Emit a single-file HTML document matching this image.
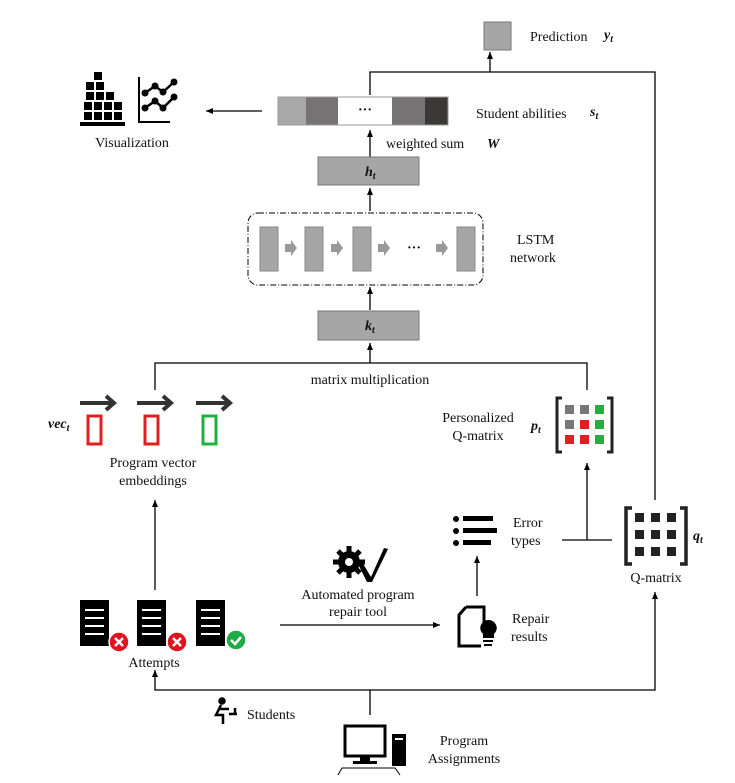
<!DOCTYPE html><html><head><meta charset="utf-8"><style>body{margin:0;background:#fff}svg{display:block}text{font-family:"Liberation Serif",serif;font-size:14px;fill:#111}.b{font-weight:bold;font-style:italic}</style></head><body>
<svg width="735" height="783" viewBox="0 0 735 783">
<defs><marker id="a" markerWidth="8" markerHeight="8" refX="7" refY="4" orient="auto" markerUnits="userSpaceOnUse"><path d="M0,1 L7,4 L0,7z" fill="#000"/></marker></defs>
<g stroke="#000" stroke-width="1.3" fill="none">
<!-- prediction line -->
<path d="M370,95 V72 H655 V500"/>
<path d="M490,72 V52" marker-end="url(#a)"/>
<path d="M262,111 H206" marker-end="url(#a)"/>
<path d="M370,157 V130" marker-end="url(#a)"/>
<path d="M370,211 V188" marker-end="url(#a)"/>
<path d="M370,310 V287" marker-end="url(#a)"/>
<path d="M370,363 V343" marker-end="url(#a)"/>
<path d="M155,390 V363 H587 V390"/>
<path d="M155,590 V500" marker-end="url(#a)"/>
<path d="M587,540 V463" marker-end="url(#a)"/>
<path d="M562,540 H612"/>
<path d="M477,596 V556" marker-end="url(#a)"/>
<path d="M280,625 H440" marker-end="url(#a)"/>
<path d="M370,715 V690 H655 V592" marker-end="url(#a)"/>
<path d="M370,690 H155 V670" marker-end="url(#a)"/>
</g>
<!-- prediction -->
<rect x="484" y="22" width="27" height="28" fill="#a6a6a6" stroke="#777"/>
<text x="530" y="41">Prediction</text><text x="604" y="39" class="b">y<tspan font-size="10" dy="3">t</tspan></text>
<!-- s_t bar -->
<rect x="278" y="97" width="28" height="28" fill="#a8a8a8"/><rect x="306" y="97" width="32" height="28" fill="#757373"/><rect x="338" y="97" width="54" height="28" fill="#fff"/><rect x="392" y="97" width="33" height="28" fill="#757373"/><rect x="425" y="97" width="23" height="28" fill="#3a3938"/>
<rect x="278" y="97" width="170" height="28" fill="none" stroke="#999"/>
<text x="365" y="114" text-anchor="middle" font-weight="bold">···</text>
<text x="476" y="118">Student abilities</text><text x="590" y="116" class="b">s<tspan font-size="10" dy="3">t</tspan></text>
<!-- visualization -->
<g fill="#000"><rect x="94" y="72" width="8" height="8"/><rect x="86" y="82" width="8" height="8"/><rect x="96" y="82" width="8" height="8"/><rect x="86" y="92" width="8" height="8"/><rect x="96" y="92" width="8" height="8"/><rect x="106" y="92" width="8" height="8"/><rect x="84" y="102" width="8" height="8"/><rect x="94" y="102" width="8" height="8"/><rect x="104" y="102" width="8" height="8"/><rect x="114" y="102" width="8" height="8"/><rect x="84" y="112" width="8" height="8"/><rect x="94" y="112" width="8" height="8"/><rect x="104" y="112" width="8" height="8"/><rect x="114" y="112" width="8" height="8"/><rect x="80" y="122" width="45" height="4"/>
<path d="M139,77 V122 H170" stroke="#000" stroke-width="2" fill="none"/>
<polyline points="145,93 155,86 163,92 174,82" stroke="#000" stroke-width="2.5" fill="none"/><polyline points="145,108 155,101 163,108 174,97" stroke="#000" stroke-width="2.5" fill="none"/>
<circle cx="145" cy="93" r="3.5"/><circle cx="155" cy="86" r="3.5"/><circle cx="163" cy="92" r="3.5"/><circle cx="174" cy="82" r="3.5"/><circle cx="145" cy="108" r="3.5"/><circle cx="155" cy="101" r="3.5"/><circle cx="163" cy="108" r="3.5"/><circle cx="174" cy="97" r="3.5"/></g>
<text x="132" y="147" text-anchor="middle">Visualization</text>
<text x="386" y="148">weighted sum</text><text x="487" y="148" class="b">W</text>
<!-- h_t -->
<rect x="318" y="157" width="101" height="28" fill="#a6a6a6" stroke="#777"/><text x="365" y="176" class="b">h<tspan font-size="10" dy="3">t</tspan></text>
<!-- LSTM -->
<rect x="248" y="213" width="235" height="72" rx="10" fill="none" stroke="#000" stroke-dasharray="6,2,1,2"/>
<g fill="#a6a6a6" stroke="#888"><rect x="260" y="227" width="18" height="44"/><rect x="305" y="227" width="18" height="44"/><rect x="353" y="227" width="18" height="44"/><rect x="457" y="227" width="18" height="44"/></g>
<g fill="#999"><path d="M285,244h6v-4l6,8l-6,8v-4h-6z"/><path d="M331,244h6v-4l6,8l-6,8v-4h-6z"/><path d="M378,244h6v-4l6,8l-6,8v-4h-6z"/><path d="M436,244h6v-4l6,8l-6,8v-4h-6z"/></g>
<text x="414" y="252" text-anchor="middle" font-weight="bold">···</text>
<text x="517" y="244">LSTM</text><text x="510" y="262">network</text>
<!-- k_t -->
<rect x="318" y="311" width="101" height="29" fill="#a6a6a6" stroke="#777"/><text x="365" y="330" class="b">k<tspan font-size="10" dy="3">t</tspan></text>
<text x="370" y="384" text-anchor="middle">matrix multiplication</text>
<!-- vec -->
<text x="48" y="428" class="b">vec<tspan font-size="10" dy="3">t</tspan></text>
<g stroke="#333" stroke-width="4" fill="none"><path d="M80,403 H113 M106,396 L114,403 L106,410"/><path d="M137,403 H170 M163,396 L171,403 L163,410"/><path d="M196,403 H229 M222,396 L230,403 L222,410"/></g>
<rect x="88" y="416" width="13" height="28" fill="none" stroke="#e02020" stroke-width="3"/><rect x="145" y="416" width="13" height="28" fill="none" stroke="#e02020" stroke-width="3"/><rect x="203" y="416" width="13" height="28" fill="none" stroke="#20b040" stroke-width="3"/>
<text x="153" y="467" text-anchor="middle">Program vector</text><text x="153" y="485" text-anchor="middle">embeddings</text>
<!-- personalized -->
<text x="478" y="422" text-anchor="middle">Personalized</text><text x="478" y="440" text-anchor="middle">Q-matrix</text><text x="531" y="430" class="b">p<tspan font-size="10" dy="3">t</tspan></text>
<path d="M562,398 h-5 v54 h5 M607,398 h5 v54 h-5" stroke="#222" stroke-width="3" fill="none"/>
<g><rect x="565" y="405" width="9" height="9" fill="#777"/><rect x="580" y="405" width="9" height="9" fill="#777"/><rect x="595" y="405" width="9" height="9" fill="#20b040"/><rect x="565" y="420" width="9" height="9" fill="#777"/><rect x="580" y="420" width="9" height="9" fill="#e02020"/><rect x="595" y="420" width="9" height="9" fill="#20b040"/><rect x="565" y="435" width="9" height="9" fill="#e02020"/><rect x="580" y="435" width="9" height="9" fill="#e02020"/><rect x="595" y="435" width="9" height="9" fill="#20b040"/></g>
<!-- error types -->
<g fill="#000"><circle cx="456" cy="519" r="3"/><circle cx="456" cy="531" r="3"/><circle cx="456" cy="543" r="3"/><rect x="463" y="516" width="30" height="5"/><rect x="463" y="528" width="34" height="5"/><rect x="463" y="540" width="28" height="5"/></g>
<text x="513" y="527">Error</text><text x="511" y="545">types</text>
<!-- Q-matrix -->
<path d="M632,508 h-6 v56 h6 M680,508 h6 v56 h-6" stroke="#222" stroke-width="3.5" fill="none"/>
<g fill="#222"><rect x="635" y="513" width="9" height="9"/><rect x="651" y="513" width="9" height="9"/><rect x="667" y="513" width="9" height="9"/><rect x="635" y="530" width="9" height="9"/><rect x="651" y="530" width="9" height="9"/><rect x="667" y="530" width="9" height="9"/><rect x="635" y="547" width="9" height="9"/><rect x="651" y="547" width="9" height="9"/><rect x="667" y="547" width="9" height="9"/></g>
<text x="693" y="540" class="b">q<tspan font-size="10" dy="3">t</tspan></text>
<text x="656" y="582" text-anchor="middle">Q-matrix</text>
<!-- gear -->
<g fill="#000"><circle cx="349" cy="562" r="11"/><g stroke="#000" stroke-width="5"><path d="M349,546 V578 M333,562 H365 M338,551 L360,573 M360,551 L338,573"/></g><circle cx="349" cy="562" r="4" fill="#fff"/><path d="M357,562 L362,562 L371,577 L384,548 L388,549 L372,582 L367,582z"/></g>
<text x="358" y="599" text-anchor="middle">Automated program</text><text x="358" y="616" text-anchor="middle">repair tool</text>
<!-- repair icon -->
<path d="M466,607 h18 v16 M466,607 l-7,8 v31 h22" stroke="#000" stroke-width="3" fill="none"/>
<path d="M488,620 a8,8 0 0 1 6,14 v4 h-11 v-4 a8,8 0 0 1 5,-14z" fill="#000"/><rect x="483" y="640" width="10" height="2" fill="#000"/><rect x="484" y="644" width="8" height="2" fill="#000"/>
<text x="512" y="623">Repair</text><text x="511" y="641">results</text>
<!-- attempts -->
<g fill="#000"><rect x="80" y="600" width="29" height="46"/><rect x="137" y="600" width="29" height="46"/><rect x="196" y="600" width="29" height="46"/></g>
<g stroke="#fff" stroke-width="2"><path d="M85,610h19M85,618h19M85,626h19M85,634h19M142,610h19M142,618h19M142,626h19M142,634h19M201,610h19M201,618h19M201,626h19M201,634h19"/></g>
<circle cx="119" cy="642" r="10" fill="#e0141e" stroke="#fff" stroke-width="1.5"/><circle cx="177" cy="642" r="10" fill="#e0141e" stroke="#fff" stroke-width="1.5"/><circle cx="236" cy="640" r="10" fill="#1faa45" stroke="#fff" stroke-width="1.5"/>
<g stroke="#fff" stroke-width="2.5"><path d="M115,638l8,8M123,638l-8,8M173,638l8,8M181,638l-8,8M231,640l4,4l6,-7" fill="none"/></g>
<text x="154" y="667" text-anchor="middle">Attempts</text>
<!-- students -->
<g stroke="#000" stroke-width="2.5" fill="none"><circle cx="222" cy="701" r="2.5" fill="#000"/><path d="M221,705 l-5,10 l7,0 l0,9 M219,709 l10,0 M229,714 h8 M235,708 v6"/></g>
<text x="247" y="719">Students</text>
<!-- computer -->
<rect x="345" y="726" width="40" height="30" fill="none" stroke="#000" stroke-width="3"/><rect x="360" y="756" width="10" height="5" fill="#000"/><rect x="353" y="761" width="24" height="3" fill="#000"/>
<rect x="392" y="734" width="14" height="32" fill="#000"/><rect x="395" y="738" width="8" height="2" fill="#fff"/>
<path d="M338,775 L342,768 H395 L400,775" stroke="#000" fill="none"/>
<text x="464" y="745" text-anchor="middle">Program</text><text x="464" y="763" text-anchor="middle">Assignments</text>
</svg></body></html>
